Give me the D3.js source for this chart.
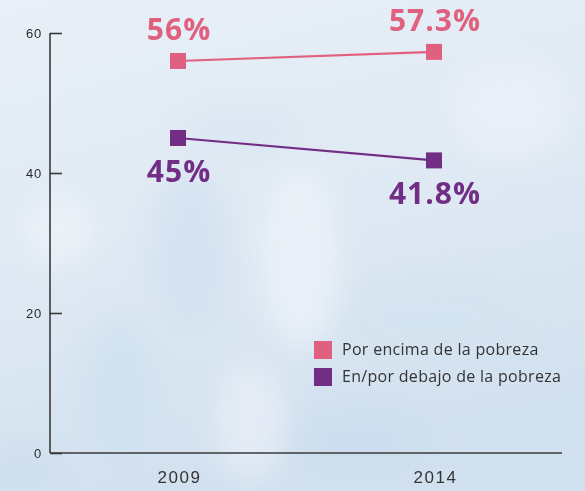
<!DOCTYPE html>
<html>
<head>
<meta charset="utf-8">
<script src="https://cdn.jsdelivr.net/npm/d3@7"></script>
<style>
body { margin: 0; background: #e4edf6; }
svg { display: block; font-family: "Open Sans", "Noto Sans", sans-serif; }
.axis path, .axis line { stroke: #3a3a3a; stroke-width: 1.6; }
.axis text { fill: #2a2a2a; }
</style>
</head>
<body>
<svg id="myGraph" width="585" height="491"></svg>
<script>
var years = ["2009", "2014"];
var seriesNames = ["Por encima de la pobreza", "En/por debajo de la pobreza"];
var aboveValues = [56, 57.3];
var belowValues = [45, 41.8];
var yTicks = [0, 20, 40, 60];
var colors = ["#e0617f", "#722e84"];

window.addEventListener("load", function(){
var svg = d3.select("#myGraph");
var defs = svg.append("defs");

// background: pale blue with soft cloudy patches
var bg = defs.append("linearGradient").attr("id", "bg")
  .attr("x1", 0).attr("y1", 0).attr("x2", 0.3).attr("y2", 1);
bg.append("stop").attr("offset", 0).attr("stop-color", "#e8eff7");
bg.append("stop").attr("offset", 0.5).attr("stop-color", "#e0eaf4");
bg.append("stop").attr("offset", 1).attr("stop-color", "#d2e1ef");
defs.append("filter").attr("id", "blur")
  .attr("x", "-50%").attr("y", "-50%").attr("width", "200%").attr("height", "200%")
  .append("feGaussianBlur").attr("stdDeviation", 14);

svg.append("rect").attr("width", 585).attr("height", 491).attr("fill", "url(#bg)");
var clouds = [
  [190, 250, 40, 80, "#d0e0ef"], [300, 260, 40, 90, "#eef3f9"], [120, 390, 35, 70, "#cddfee"],
  [430, 320, 90, 40, "#d3e2f0"], [60, 230, 35, 35, "#eef3f9"], [510, 110, 60, 50, "#ebf1f8"],
  [360, 440, 70, 35, "#cbddee"], [250, 420, 35, 60, "#e9f0f8"], [20, 470, 45, 25, "#ccdded"],
  [240, 130, 60, 25, "#d9e6f2"]
];
svg.append("g").attr("filter", "url(#blur)").selectAll("ellipse")
  .data(clouds).enter().append("ellipse")
  .attr("cx", function(d){ return d[0]; })
  .attr("cy", function(d){ return d[1]; })
  .attr("rx", function(d){ return d[2]; })
  .attr("ry", function(d){ return d[3]; })
  .attr("fill", function(d){ return d[4]; })
  .attr("opacity", 0.7);

var mLeft = 50, mRight = 562, mTop = 33, mBottom = 453;

var xScale = d3.scalePoint().domain(years).range([mLeft, mRight]).padding(0.5);
var yScale = d3.scaleLinear().domain([0, 60]).range([mBottom, mTop]);

// y axis, ticks pointing inward
var yAxis = d3.axisRight(yScale).tickValues(yTicks).tickSize(12).tickSizeOuter(0).tickFormat(d3.format("d"));
var gy = svg.append("g").attr("class", "axis")
  .attr("transform", "translate(" + mLeft + ",0)")
  .call(yAxis);
gy.selectAll("text").attr("x", -8).attr("text-anchor", "end")
  .style("font-size", "13px").style("letter-spacing", "0.8px").attr("dy", "0.35em");
gy.select(".domain").attr("d", "M0," + mTop + "V" + mBottom);

// x axis
var xAxis = d3.axisBottom(xScale).tickSize(0).tickSizeOuter(0);
var gx = svg.append("g").attr("class", "axis")
  .attr("transform", "translate(0," + mBottom + ")")
  .call(xAxis);
gx.select(".domain").attr("d", "M" + mLeft + ",0H" + mRight);
gx.selectAll("text").attr("y", 30).attr("dy", 0).attr("dx", 1)
  .style("font-size", "17px").style("letter-spacing", "1.5px").style("fill", "#333");

var series = [aboveValues, belowValues];
var line = d3.line()
  .x(function(d, i){ return xScale(years[i]); })
  .y(function(d){ return yScale(d); });

series.forEach(function(vals, s) {
  svg.append("path").attr("d", line(vals))
    .attr("fill", "none").attr("stroke", colors[s]).attr("stroke-width", 2.2);
  svg.selectAll(".m" + s).data(vals).enter().append("rect")
    .attr("x", function(d, i){ return xScale(years[i]) - 8; })
    .attr("y", function(d){ return yScale(d) - 8; })
    .attr("width", 16).attr("height", 16)
    .attr("fill", colors[s]);
  svg.selectAll(".l" + s).data(vals).enter().append("text")
    .attr("x", function(d, i){ return xScale(years[i]) + 1; })
    .attr("y", function(d){ return s === 0 ? yScale(d) - 21 : yScale(d) + 44; })
    .attr("text-anchor", "middle")
    .style("font-size", "30px").style("font-weight", "700").style("letter-spacing", "1px")
    .attr("fill", colors[s])
    .text(function(d){ return d + "%"; });
});

// legend
var legend = svg.append("g").attr("transform", "translate(314,341)");
seriesNames.forEach(function(name, i) {
  legend.append("rect").attr("x", 0).attr("y", i * 27).attr("width", 18).attr("height", 18)
    .attr("fill", colors[i]);
  legend.append("text").attr("x", 28).attr("y", i * 27 + 14)
    .style("font-size", "16px").style("letter-spacing", "0.3px").attr("fill", "#333")
    .text(name);
});
});
</script>
</body>
</html>
